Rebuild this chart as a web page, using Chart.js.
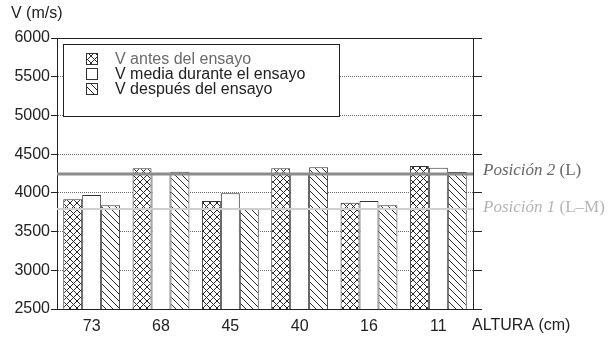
<!DOCTYPE html>
<html>
<head>
<meta charset="utf-8">
<script src="https://cdn.jsdelivr.net/npm/chart.js@4/dist/chart.umd.min.js"></script>
<style>
  html, body { margin: 0; padding: 0; background: #fff; }
  canvas { display: block; }
</style>
</head>
<body>
<canvas id="c" width="616" height="342"></canvas>
<script>
// Heights (cm) along the specimen
const categories = ['73', '68', '45', '40', '16', '11'];

// Pulse velocity (m/s) per height
const vAntes   = [3917, 4317, 3895, 4317, 3873, 4347];
const vMedia   = [3972, 4255, 3994, 4258, 3895, 4325];
const vDespues = [3839, 4273, 3795, 4330, 3839, 4270];

const seriesNames = ['V antes del ensayo', 'V media durante el ensayo', 'V después del ensayo'];

// Y axis
const yTicks = [2500, 3000, 3500, 4000, 4500, 5000, 5500, 6000];
const yMin = 2500, yMax = 6000, yStep = 500;

// Reference levels
const posicion2 = 4240;
const posicion1 = 3790;

const SANS = '"Liberation Sans", Arial, sans-serif';
const SERIF = '"Liberation Serif", "Times New Roman", serif';
const INK = '#222';

const canvas = document.getElementById('c');
const mainCtx = canvas.getContext('2d');

// Hatch fills
function makePattern(kind) {
  const s = 7;
  const t = document.createElement('canvas');
  t.width = s; t.height = s;
  const g = t.getContext('2d');
  g.fillStyle = '#fff';
  g.fillRect(0, 0, s, s);
  g.strokeStyle = '#2a2a2a';
  g.lineWidth = 1;
  g.beginPath();
  // "\" diagonals
  g.moveTo(-1, -1); g.lineTo(s + 1, s + 1);
  g.moveTo(-1, s - 1); g.lineTo(1, s + 1);
  g.moveTo(s - 1, -1); g.lineTo(s + 1, 1);
  if (kind === 'cross') {
    // "/" diagonals
    g.moveTo(-1, s + 1); g.lineTo(s + 1, -1);
    g.moveTo(-1, 1); g.lineTo(1, -1);
    g.moveTo(s - 1, s + 1); g.lineTo(s + 1, s - 1);
  }
  g.stroke();
  return mainCtx.createPattern(t, 'repeat');
}
const crossFill = makePattern('cross');
const diagFill = makePattern('diag');
const fills = [crossFill, '#ffffff', diagFill];

const isEdge = v => v === yMin || v === yMax;

// Reference lines, legend box and free text
const decorations = {
  id: 'decorations',
  afterDatasetsDraw(chart) {
    const { ctx, chartArea: a, scales } = chart;
    const y = scales.y;
    ctx.save();
    const lines = [
      { v: posicion1, color: '#cfcfcf', w: 2 },
      { v: posicion2, color: '#8c8c8c', w: 3 }
    ];
    lines.forEach(l => {
      const py = Math.round(y.getPixelForValue(l.v));
      ctx.strokeStyle = l.color;
      ctx.lineWidth = l.w;
      ctx.beginPath();
      ctx.moveTo(a.left, py);
      ctx.lineTo(a.right, py);
      ctx.stroke();
    });
    ctx.restore();
  },
  afterDraw(chart) {
    const { ctx, chartArea: a, scales } = chart;
    const y = scales.y;
    ctx.save();

    // Legend box
    const bx = a.left + 6, by = a.top + 6, bw = 276, bh = 72;
    ctx.fillStyle = '#fff';
    ctx.fillRect(bx, by, bw, bh);
    ctx.strokeStyle = INK;
    ctx.lineWidth = 1;
    ctx.strokeRect(bx + 0.5, by + 0.5, bw, bh);

    const textColors = ['#6a6a6a', INK, INK];
    ctx.font = '16px ' + SANS;
    ctx.textBaseline = 'middle';
    ctx.textAlign = 'left';
    seriesNames.forEach((name, i) => {
      const cy = by + 15 + i * 15;
      const ix = bx + 23;
      ctx.fillStyle = fills[i];
      ctx.fillRect(ix, cy - 6, 12, 12);
      ctx.strokeStyle = '#333';
      ctx.strokeRect(ix + 0.5, cy - 5.5, 11, 11);
      ctx.fillStyle = textColors[i];
      ctx.fillText(name, bx + 52, cy + 1);
    });

    // Axis captions
    ctx.fillStyle = INK;
    ctx.font = '16px ' + SANS;
    ctx.fillText('V (m/s)', a.left - 46, a.top - 24);
    ctx.fillText('ALTURA (cm)', a.right - 1, a.bottom + 17);

    // Reference level labels
    const drawLabel = (value, italicPart, plainPart, color, dy) => {
      const px = a.right + 10;
      const py = y.getPixelForValue(value) + dy;
      ctx.fillStyle = color;
      ctx.font = 'italic 17px ' + SERIF;
      ctx.fillText(italicPart, px, py);
      const w = ctx.measureText(italicPart).width;
      ctx.font = '17px ' + SERIF;
      ctx.fillText(plainPart, px + w, py);
    };
    drawLabel(posicion2, 'Posición 2', ' (L)', '#666', -4);
    drawLabel(posicion1, 'Posición 1', ' (L–M)', '#b5b5b5', -2);

    ctx.restore();
  }
};

const ds = (label, data, fill) => ({
  label, data,
  backgroundColor: fill,
  borderColor: '#333',
  borderWidth: 1,
  categoryPercentage: 0.82,
  barPercentage: 1.0
});

new Chart(canvas, {
  type: 'bar',
  data: {
    labels: categories,
    datasets: [
      ds(seriesNames[0], vAntes, crossFill),
      ds(seriesNames[1], vMedia, '#ffffff'),
      ds(seriesNames[2], vDespues, diagFill)
    ]
  },
  options: {
    responsive: false,
    animation: false,
    devicePixelRatio: 1,
    layout: { padding: { top: 38, right: 133, bottom: 0, left: 0 } },
    plugins: { legend: { display: false }, tooltip: { enabled: false } },
    scales: {
      x: {
        grid: { display: false, drawTicks: false },
        border: { display: true, color: INK, width: 1 },
        ticks: { color: INK, font: { family: SANS, size: 16 }, padding: 8 },
        afterFit: s => { s.height = 33; }
      },
      y: {
        min: yMin, max: yMax,
        afterBuildTicks: s => { s.ticks = yTicks.map(v => ({ value: v })); },
        ticks: {
          stepSize: yStep, color: INK, font: { family: SANS, size: 16 }, padding: 1,
          callback: v => String(v)
        },
        grid: {
          color: c => (c.tick && isEdge(c.tick.value)) ? INK : '#6e6e6e',
          lineWidth: 1,
          tickColor: INK,
          tickLength: 6,
          tickWidth: 1
        },
        border: {
          color: INK, width: 1,
          dash: c => (c.tick && !isEdge(c.tick.value)) ? [1, 1] : []
        },
        afterFit: s => { s.width = 57; }
      },
      yR: {
        position: 'right',
        min: yMin, max: yMax,
        afterBuildTicks: s => { s.ticks = yTicks.map(v => ({ value: v })); },
        ticks: { display: false, stepSize: yStep },
        grid: { drawOnChartArea: false, tickColor: INK, tickLength: 9, tickWidth: 1 },
        border: { color: INK, width: 1 },
        afterFit: s => { s.width = 10; }
      }
    }
  },
  plugins: [decorations]
});
</script>
</body>
</html>
